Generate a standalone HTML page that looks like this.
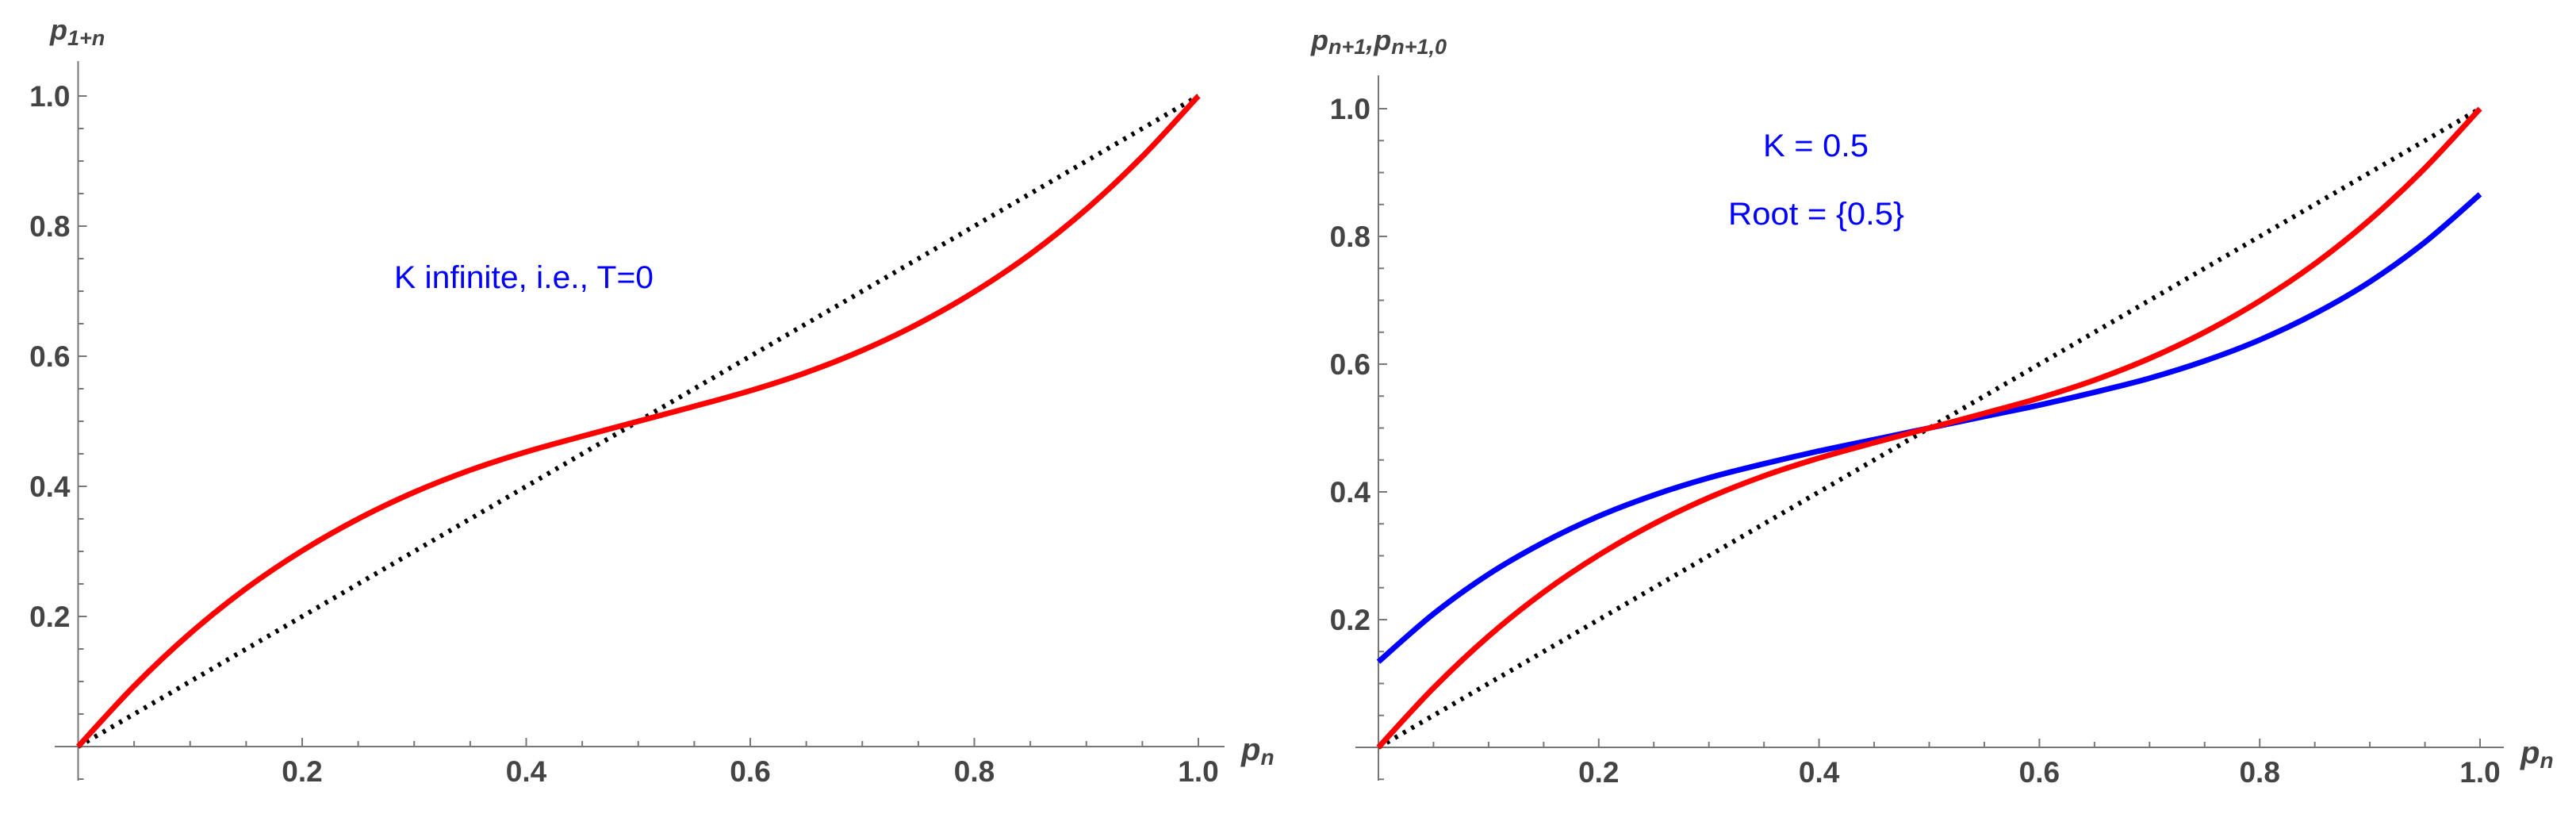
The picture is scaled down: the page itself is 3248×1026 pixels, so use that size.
<!DOCTYPE html>
<html><head><meta charset="utf-8">
<style>
html,body{margin:0;padding:0;background:#fff;}
svg{display:block;}
.tick{font-family:"Liberation Sans",sans-serif;font-weight:bold;font-size:37px;fill:#444;}
.lab{font-family:"Liberation Sans",sans-serif;font-weight:bold;font-style:italic;fill:#444;}
.ann{font-family:"Liberation Sans",sans-serif;fill:#0000ff;font-size:40px;}
</style></head>
<body>
<svg id="chart" width="3248" height="1026" viewBox="0 0 3248 1026" xmlns="http://www.w3.org/2000/svg">
<g id="left"></g>
<g id="right"></g>
<text class="lab" x="63" y="50" font-size="36">p<tspan font-size="27" dy="7">1+n</tspan></text>
<text class="lab" x="1565" y="958" font-size="40">p<tspan font-size="28" dy="6">n</tspan></text>
<text class="lab" x="1653" y="63" font-size="36">p<tspan font-size="27" dy="5">n+1</tspan><tspan dy="-5">,p</tspan><tspan font-size="27" dy="5">n+1,0</tspan></text>
<text class="lab" x="3178" y="962" font-size="40">p<tspan font-size="28" dy="6">n</tspan></text>
<text class="ann" x="497" y="363" textLength="327" lengthAdjust="spacingAndGlyphs">K infinite, i.e., T=0</text>
<text class="ann" x="2223" y="197" textLength="133" lengthAdjust="spacingAndGlyphs">K = 0.5</text>
<text class="ann" x="2179" y="283" textLength="222" lengthAdjust="spacingAndGlyphs">Root = {0.5}</text>
</svg>
<script>
const xs = [0,0.05,0.1,0.15,0.2,0.25,0.3,0.35,0.4,0.45,0.5,0.55,0.6,0.65,0.7,0.75,0.8,0.85,0.9,0.95,1];
const redVals = [0,0.093,0.174,0.243,0.301,0.35,0.391,0.425,0.453,0.477,0.5,0.523,0.547,0.575,0.609,0.65,0.699,0.757,0.826,0.907,1];
const blueVals = [0.134,0.209,0.271,0.321,0.362,0.395,0.422,0.444,0.464,0.482,0.5,0.518,0.536,0.556,0.578,0.605,0.638,0.679,0.729,0.791,0.866];
const diagVals = [0,1];
const diagXs = [0,1];
const xTickLabels = ["0.2","0.4","0.6","0.8","1.0"];
const yTickLabels = ["0.2","0.4","0.6","0.8","1.0"];
const NS = "http://www.w3.org/2000/svg";

function mk(tag, attrs, parent){
  const e = document.createElementNS(NS, tag);
  for (const k in attrs) e.setAttribute(k, attrs[k]);
  parent.appendChild(e);
  return e;
}

function panel(g, P, series){
  const sx = v => P.x0 + v * P.xw;
  const sy = v => P.y0 - v * P.yh;
  const xa = mk("line", {x1:P.axL, y1:P.y0, x2:P.axR, y2:P.y0, stroke:"#777", "stroke-width":2}, g);
  
  
  const ya = mk("line", {x1:P.x0, y1:P.axT, x2:P.x0, y2:P.axB, stroke:"#777", "stroke-width":2}, g);
  
  
  for (let i = 1; i <= 20; i++) {
    const v = i * 0.05;
    const major = i % 4 === 0;
    const L = major ? 11 : 7;
    const t = mk("line", {x1:sx(v), y1:P.y0, x2:sx(v), y2:P.y0 - L, stroke:"#777", "stroke-width":2}, g);
    
    
    const u = mk("line", {x1:P.x0, y1:sy(v), x2:P.x0 + L, y2:sy(v), stroke:"#777", "stroke-width":2}, g);
    
    
  }
  const u2 = mk("line", {x1:P.x0, y1:sy(-0.05), x2:P.x0 + 7, y2:sy(-0.05), stroke:"#777", "stroke-width":2}, g);
  
  
  xTickLabels.forEach(function(s){
    const v = parseFloat(s);
    const t = mk("text", {x:sx(v), y:P.y0 + 44, "text-anchor":"middle", class:"tick"}, g);
    t.textContent = s;
    
    
  });
  yTickLabels.forEach(function(s){
    const v = parseFloat(s);
    const t = mk("text", {x:P.x0 - 10, y:sy(v) + 13, "text-anchor":"end", class:"tick"}, g);
    t.textContent = s;
    
    
  });
  const dp = diagXs.map((x, i) => sx(x) + "," + sy(diagVals[i])).join(" ");
  const d = mk("polyline", {points:dp, fill:"none", stroke:"#000", "stroke-width":6, "stroke-dasharray":"4 8"}, g);
  
  
  series.forEach(function(s){
    const pts = xs.map((x, i) => [sx(x), sy(s.vals[i])]);
    let path = "M" + pts[0][0] + "," + pts[0][1];
    for (let i = 0; i < pts.length - 1; i++) {
      const p0 = pts[Math.max(0, i - 1)], p1 = pts[i], p2 = pts[i + 1], p3 = pts[Math.min(pts.length - 1, i + 2)];
      const c1x = p1[0] + (p2[0] - p0[0]) / 6, c1y = p1[1] + (p2[1] - p0[1]) / 6;
      const c2x = p2[0] - (p3[0] - p1[0]) / 6, c2y = p2[1] - (p3[1] - p1[1]) / 6;
      path += " C" + c1x + "," + c1y + " " + c2x + "," + c2y + " " + p2[0] + "," + p2[1];
    }
    const e = mk("path", {d:path, fill:"none", stroke:s.color, "stroke-width":7}, g);
    
    
  });
}

panel(document.getElementById("left"),
  {x0:98.5, y0:941, xw:1412.5, yh:820, axL:69, axR:1544, axT:77, axB:984},
  [{vals:redVals, color:"#ff0000", name:"red-curve-left"}]);
panel(document.getElementById("right"),
  {x0:1738, y0:942, xw:1389, yh:805, axL:1709, axR:3157, axT:95, axB:984},
  [{vals:blueVals, color:"#0000ff", name:"blue-curve"},{vals:redVals, color:"#ff0000", name:"red-curve-right"}]);
</script>
</body></html>
